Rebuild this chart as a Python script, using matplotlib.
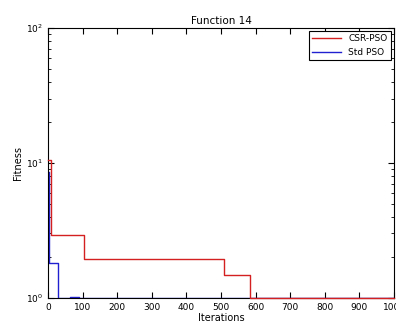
import numpy as np
import matplotlib.pyplot as plt

# best fitness per iteration for both optimisers (step changes only)
csr_iter = [0, 9, 105, 510, 585, 1000]
csr_fit = [10.5, 2.9, 1.95, 1.47, 1.0, 1.0]

std_iter = [0, 2, 4, 29, 65, 90, 1000]
std_fit = [8.5, 2.3, 1.8, 1.0, 1.015, 1.0, 1.0]

xticks = np.arange(0, 1001, 100)

fig = plt.figure(figsize=(3.96, 3.22), dpi=100)
ax = fig.add_axes([0.121, 0.075, 0.874, 0.838])

# Std PSO sits under the axis line, CSR-PSO is drawn over it
ax.plot(std_iter, std_fit, color='#2020d0', lw=1.0, drawstyle='steps-post',
        label='Std PSO', zorder=2)
ax.plot(csr_iter, csr_fit, color='#d42020', lw=1.0, drawstyle='steps-post',
        label='CSR-PSO', zorder=3, clip_on=False)

ax.set_yscale('log')
ax.set_ylim(1, 100)
ax.set_xlim(0, 1000)
ax.set_xticks(xticks)
ax.tick_params(which='both', direction='in', top=True, right=True, labelsize=6.5)
ax.tick_params(which='major', length=4)
ax.tick_params(which='minor', length=2)

ax.set_title('Function 14', fontsize=7.5, pad=3)
ax.set_xlabel('Iterations', fontsize=7, labelpad=1)
ax.set_ylabel('Fitness', fontsize=7, labelpad=2)

handles, labels = ax.get_legend_handles_labels()
leg = ax.legend(handles[::-1], labels[::-1], loc='upper right', fontsize=6.5,
                fancybox=False, framealpha=1, edgecolor='black',
                borderaxespad=0.3, handlelength=3.2)
leg.get_frame().set_linewidth(0.8)
leg.set_zorder(5)

fig.savefig('out.png', dpi=100)
